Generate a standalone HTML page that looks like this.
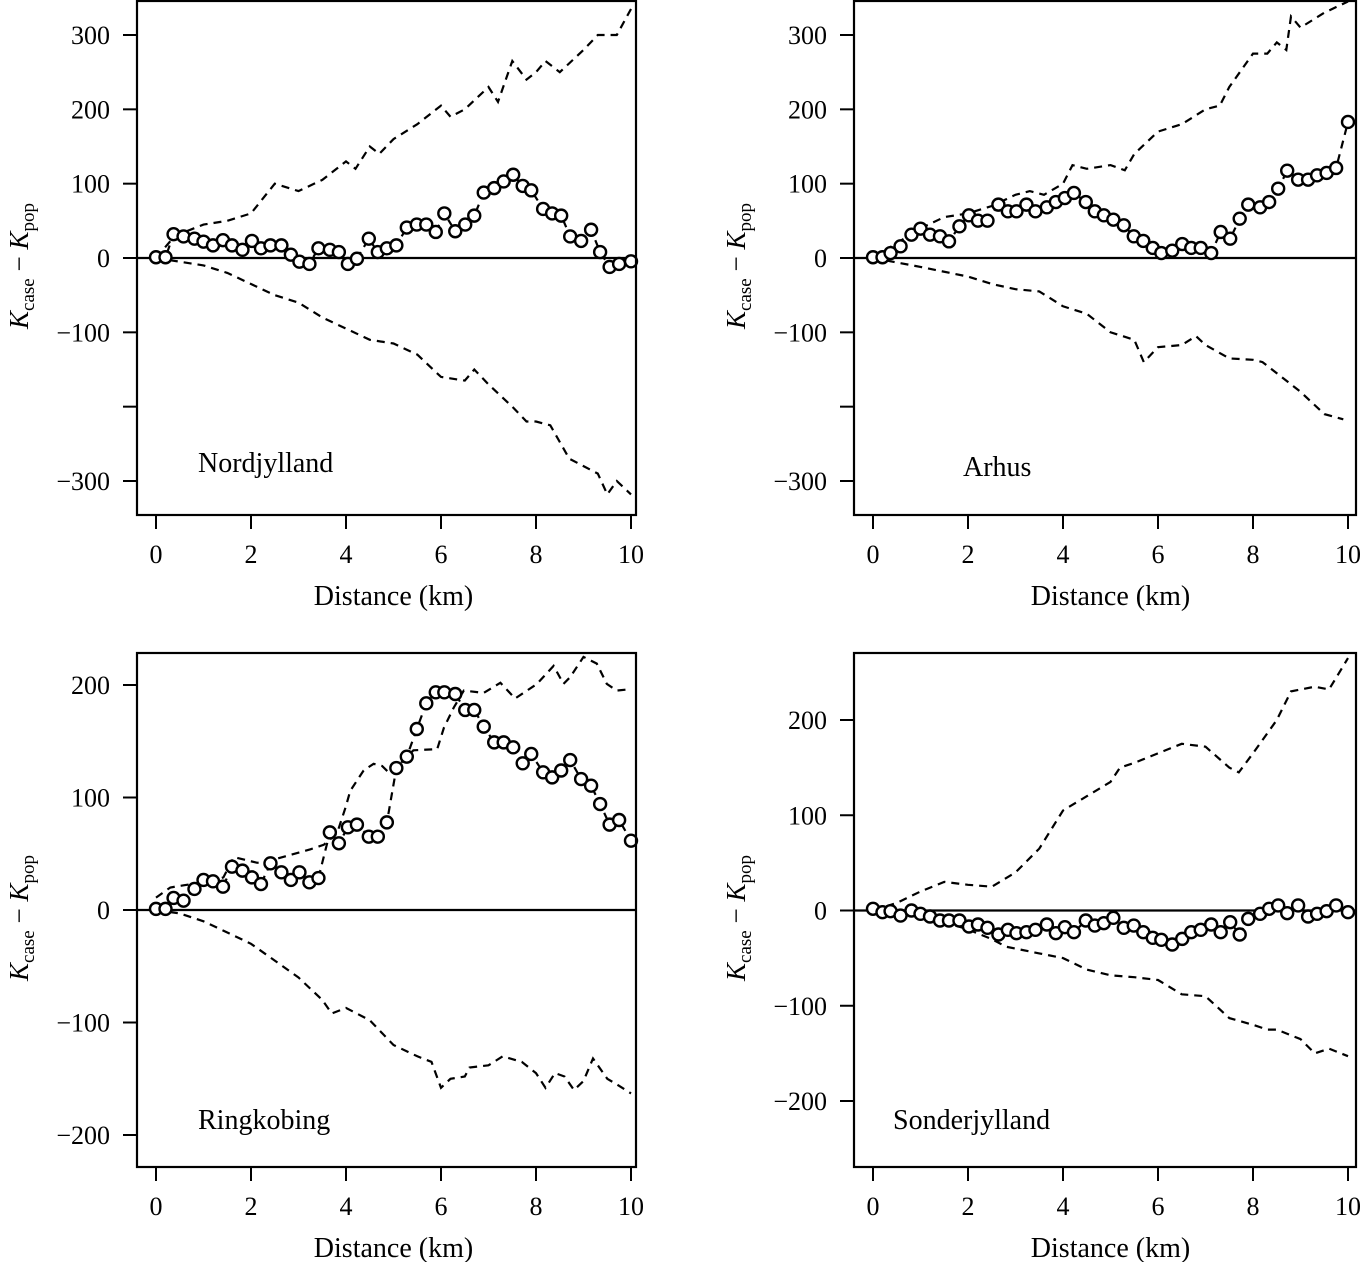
<!DOCTYPE html>
<html><head><meta charset="utf-8"><style>
html,body{margin:0;padding:0;background:#fff;}
svg{display:block;font-family:"Liberation Serif",serif;}
</style></head><body>
<svg id="chart" width="1369" height="1262" viewBox="0 0 1369 1262" xmlns="http://www.w3.org/2000/svg"></svg>
<script>
// ---- shared data ----
const xTicks = [0, 2, 4, 6, 8, 10];
const circleDist = [0,0.2,0.37,0.58,0.81,1.0,1.2,1.41,1.6,1.82,2.02,2.21,2.41,2.64,2.84,3.02,3.23,3.42,3.66,3.85,4.04,4.23,4.48,4.67,4.86,5.06,5.28,5.49,5.69,5.89,6.07,6.3,6.51,6.7,6.9,7.12,7.32,7.52,7.72,7.9,8.15,8.34,8.53,8.72,8.95,9.16,9.35,9.55,9.75,10.0];

// ---- Nordjylland ----
const nordObs = [1,1,32,29,26,22,17,24,17,11,23,13,17,17,4.5,-5,-8,13,11,8,-8,-1,26,8,13,17,41,45,45,35,60,36,45,57,88,94,103,112,97,91,66,60,57,29,23,38,8,-12,-8,-4.5];
const nordUpX = [0,0.4,1,1.5,2,2.5,3,3.5,4,4.2,4.5,4.7,5,5.5,6,6.2,6.5,7,7.2,7.5,7.8,8,8.2,8.5,9,9.3,9.7,10];
const nordUpY = [0,30,45,50,60,100,90,105,130,120,150,140,160,180,205,190,200,230,210,265,240,250,265,250,280,300,300,335];
const nordLoX = [0,1,1.5,2,2.5,3,3.5,4,4.5,5,5.5,6,6.5,6.7,7,7.5,7.8,8,8.3,8.7,9,9.3,9.5,9.7,10];
const nordLoY = [0,-10,-20,-35,-50,-60,-80,-95,-110,-115,-130,-160,-165,-150,-170,-200,-220,-220,-225,-270,-280,-290,-318,-300,-318];

// ---- Arhus ----
const arhusObs = [1,1,6.7,15.7,31.4,39.5,31.4,29.2,22.4,42.6,57.4,50.2,50.2,71.8,62.8,62.8,71.8,62.8,68.2,75.3,80.7,87.5,75.3,62.8,57.4,51.6,44,29.2,23,13.5,6.7,9.9,18.8,13.5,13.5,6.7,35,26,52.9,71.8,68.2,75.3,93.3,117.5,105.4,105.4,111.2,114.4,121.1,183];
const arhusUpX = [0,0.5,1,1.5,2,2.5,3,3.3,3.6,4,4.2,4.5,5,5.3,5.5,6,6.5,7,7.3,7.5,8,8.3,8.5,8.7,8.8,9,9.5,10];
const arhusUpY = [0,20,40,55,60,70,85,90,85,100,125,120,125,118,140,170,180,200,205,230,275,275,290,280,325,310,330,345];
const arhusLoX = [0,1,2,2.5,3,3.5,4,4.5,5,5.5,5.7,6,6.5,6.8,7,7.5,8,8.2,8.5,9,9.5,9.9];
const arhusLoY = [0,-12,-25,-35,-42,-45,-65,-75,-100,-110,-140,-120,-117,-105,-117,-135,-137,-140,-155,-180,-210,-217];

// ---- Ringkobing ----
const ringObs = [1,1,10.7,8.3,18.7,26.7,25.5,20.7,38.5,35,29,23.1,41.5,33.5,26.7,33.5,24.6,28.4,69,59.3,73.5,75.9,65.2,65.2,77.9,126.2,136.3,160.9,183.7,193.5,193.5,192,177.8,177.8,163,149,149,144.6,130.4,138.7,122.4,117.9,124,133.3,116.4,110.5,94.2,75.9,80,61.6];
const ringUpX = [0,0.3,0.58,1.21,1.42,1.64,2.13,2.41,2.83,3.25,3.53,3.81,3.99,4.09,4.37,4.58,4.76,4.93,5.14,5.42,5.92,6.06,6.27,6.48,6.9,7.25,7.56,8.02,8.37,8.58,8.72,9.0,9.28,9.49,9.7,9.92];
const ringUpY = [11,20,22,26,29,47,42,44,49,54,58,68,91,106,124,130,128,121,130,142,143,162,180,195,193,202,188,201,217,201,207,225,219,201,195,196];
const ringLoX = [0,0.5,1,1.5,2,2.5,3,3.5,3.7,4,4.5,5,5.5,5.8,6,6.2,6.5,6.6,7,7.3,7.7,8,8.2,8.4,8.6,8.8,9,9.2,9.5,9.7,10];
const ringLoY = [0,-3,-10,-20,-30,-45,-60,-80,-92,-87,-98,-120,-130,-135,-158,-150,-148,-140,-138,-130,-135,-145,-158,-145,-148,-160,-152,-132,-150,-155,-163];

// ---- Sonderjylland ----
const sondObs = [1.8,-1.8,-0.7,-5.3,0,-3.5,-6.3,-10.5,-10.5,-10.5,-16.8,-14.7,-18.2,-25.2,-20.3,-23.8,-22.8,-20.3,-14.7,-23.8,-17.5,-22.8,-10.5,-15.8,-13.3,-7.7,-18.2,-15.8,-22.8,-28.7,-30.8,-35.7,-29.8,-22.8,-20.3,-14.7,-22.8,-12.3,-25.2,-8.8,-3.5,1.8,5.3,-2.8,5.3,-6.3,-3.5,-0.7,5.3,-1.8];
const sondUpX = [0,0.5,1,1.5,2,2.5,3,3.5,4,4.5,5,5.2,5.5,6,6.5,7,7.5,7.7,8,8.5,8.8,9.3,9.6,10];
const sondUpY = [0,8,20,30,27,25,40,65,105,120,135,150,155,165,175,172,150,145,165,200,230,235,232,265];
const sondLoX = [0,1,1.5,2,2.5,2.8,3.5,4,4.5,5,5.5,6,6.5,7,7.5,8,8.3,8.5,9,9.3,9.6,10];
const sondLoY = [0,-5,-12,-20,-30,-38,-45,-50,-62,-68,-70,-73,-88,-90,-113,-120,-125,-125,-135,-150,-145,-153];

const yTicksTop = [300,200,100,0,-100,-200,-300];
const yLabelsTop = ["300","200","100","0","\u2212100","","\u2212300"];
const yTicksRing = [200,100,0,-100,-200];
const yLabelsRing = ["200","100","0","\u2212100","\u2212200"];
const yTicksSond = [200,100,0,-100,-200];
const yLabelsSond = ["200","100","0","\u2212100","\u2212200"];

const NS = "http://www.w3.org/2000/svg";
const svg = document.getElementById("chart");
function mk(tag, attrs, parent){
  const e = document.createElementNS(NS, tag);
  for (const k in attrs) e.setAttribute(k, attrs[k]);
  (parent||svg).appendChild(e);
  return e;
}

const panels = [
  {key:"nordjylland", name:"Nordjylland", box:[137,1,636,515], x0:156, x1:631, yA:300, yApx:35, yB:-300, yBpx:481, obs:nordObs, up:[nordUpX,nordUpY], lo:[nordLoX,nordLoY], ticks:yTicksTop, labels:yLabelsTop, lx:198, ly:472},
  {key:"arhus", name:"Arhus", box:[854,1,1356,515], x0:873, x1:1348, yA:300, yApx:35, yB:-300, yBpx:481, obs:arhusObs, up:[arhusUpX,arhusUpY], lo:[arhusLoX,arhusLoY], ticks:yTicksTop, labels:yLabelsTop, lx:963, ly:476},
  {key:"ringkobing", name:"Ringkobing", box:[137,653,636,1167], x0:156, x1:631, yA:200, yApx:685, yB:-200, yBpx:1135, obs:ringObs, up:[ringUpX,ringUpY], lo:[ringLoX,ringLoY], ticks:yTicksRing, labels:yLabelsRing, lx:198, ly:1129},
  {key:"sonderjylland", name:"Sonderjylland", box:[854,653,1356,1167], x0:873, x1:1348, yA:200, yApx:720, yB:-200, yBpx:1101, obs:sondObs, up:[sondUpX,sondUpY], lo:[sondLoX,sondLoY], ticks:yTicksSond, labels:yLabelsSond, lx:893, ly:1129}
];

panels.forEach(p => {
  const g = mk("g", {});
  
  
  const sx = d => p.x0 + (p.x1 - p.x0) * d / 10;
  const sy = v => p.yApx + (p.yBpx - p.yApx) * (v - p.yA) / (p.yB - p.yA);
  const [bx0, by0, bx1, by1] = p.box;

  const zl = mk("line", {x1:bx0, x2:bx1, y1:sy(0), y2:sy(0), stroke:"#000", "stroke-width":2.2}, g);
  
  

  [[p.up,'upper-envelope'],[p.lo,'lower-envelope']].forEach(([s,nm]) => {
    const pts = s[0].map((d,i) => sx(d).toFixed(1)+","+sy(s[1][i]).toFixed(1)).join(" ");
    const pl = mk("polyline", {points:pts, fill:"none", stroke:"#000", "stroke-width":2.2, "stroke-dasharray":"8,6"}, g);
    
    
  });

  const opts = circleDist.map((d,i) => sx(d).toFixed(1)+","+sy(p.obs[i]).toFixed(1)).join(" ");
  const ol = mk("polyline", {points:opts, fill:"none", stroke:"#000", "stroke-width":2.2, "stroke-dasharray":"8,6"}, g);
  
  
  circleDist.forEach((d,i) => {
    const c = mk("circle", {cx:sx(d), cy:sy(p.obs[i]), r:6, fill:"#fff", stroke:"#000", "stroke-width":2.4}, g);
    
    
  });

  const bx = mk("rect", {x:bx0, y:by0, width:bx1-bx0, height:by1-by0, fill:"none", stroke:"#000", "stroke-width":2.2}, g);
  
  

  xTicks.forEach(t => {
    const tl = mk("line", {x1:sx(t), x2:sx(t), y1:by1, y2:by1+14, stroke:"#000", "stroke-width":2}, g);
    
    
    const tx = mk("text", {x:sx(t), y:by1+48, "font-size":26, "text-anchor":"middle"}, g);
    tx.textContent = t;
    
    
  });
  const xt = mk("text", {x:(p.x0+p.x1)/2, y:by1+90, "font-size":28, "text-anchor":"middle"}, g);
  xt.textContent = "Distance (km)";
  
  

  p.ticks.forEach((t,i) => {
    const tl = mk("line", {x1:bx0-14, x2:bx0, y1:sy(t), y2:sy(t), stroke:"#000", "stroke-width":2}, g);
    
    
    if (p.labels[i] !== "") {
      const tx = mk("text", {x:bx0-27, y:sy(t)+9, "font-size":26, "text-anchor":"end"}, g);
      tx.textContent = p.labels[i];
      
      
    }
  });

  const cy = (by0 + by1) / 2 + 8;
  const yt = mk("text", {x:0, y:0, "font-size":27, "text-anchor":"middle", transform:`translate(${bx0-109},${cy}) rotate(-90)`}, g);
  
  
  yt.innerHTML = '<tspan font-style="italic">K</tspan><tspan font-size="19" dy="6">case</tspan><tspan dy="-6"> \u2212 </tspan><tspan font-style="italic">K</tspan><tspan font-size="19" dy="6">pop</tspan>';

  const lb = mk("text", {x:p.lx, y:p.ly, "font-size":28}, g);
  lb.textContent = p.name;
  
  
});
</script>
</body></html>
